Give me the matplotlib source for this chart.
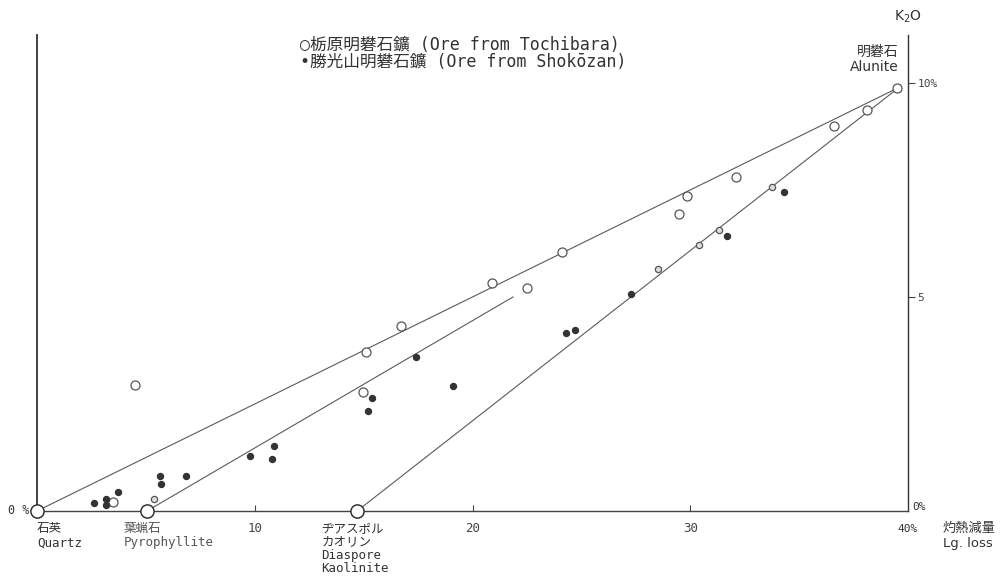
import matplotlib
matplotlib.use("Agg")
import matplotlib.pyplot as plt

plt.rcParams['font.family'] = ['DejaVu Sans Mono', 'Noto Sans CJK JP']
sans = ['DejaVu Sans', 'Noto Sans CJK JP']

# end members (Lg. loss %, K2O %)
quartz = (0.0, 0.0)
pyrophyllite = (5.05, 0.0)
diaspore_kaolinite = (14.7, 0.0)
alunite = (39.6, 9.9)

# Tochibara ore (open circles)
tochi_loss = [3.5, 4.5, 14.97, 15.1, 16.7, 20.9, 22.5, 24.1, 29.5, 29.85,
              32.1, 36.6, 38.1, 39.5]
tochi_k2o = [0.21, 2.94, 2.78, 3.72, 4.33, 5.33, 5.21, 6.05, 6.94, 7.36,
             7.80, 9.0, 9.37, 9.88]

# small open circles along the kaolinite-alunite line
tochi_small_loss = [5.37, 28.5, 30.4, 31.3, 33.75]
tochi_small_k2o = [0.29, 5.65, 6.21, 6.57, 7.57]

# Shokozan ore (filled dots)
shoko_loss = [2.63, 3.17, 3.17, 3.7, 5.66, 5.69, 6.84, 9.8, 10.8, 10.9,
              15.2, 15.4, 17.4, 19.1, 24.3, 24.7, 27.3, 31.7, 34.3]
shoko_k2o = [0.18, 0.28, 0.14, 0.45, 0.81, 0.63, 0.81, 1.29, 1.21, 1.53,
             2.34, 2.65, 3.6, 2.92, 4.16, 4.23, 5.07, 6.43, 7.45]

pyro_line_end = (21.86, 5.0)

fig = plt.figure(figsize=(10.04, 5.79), dpi=100)
ax = fig.add_axes([37 / 1004, 68 / 579, 871 / 1004, 476 / 579])
ax.set_xlim(0, 40)
ax.set_ylim(0, 11.12)

line_c = '#5a5a5a'
ax.plot([quartz[0], alunite[0]], [quartz[1], alunite[1]], color=line_c, lw=0.8)
ax.plot([pyrophyllite[0], pyro_line_end[0]], [pyrophyllite[1], pyro_line_end[1]],
        color=line_c, lw=0.8)
ax.plot([diaspore_kaolinite[0], alunite[0]], [diaspore_kaolinite[1], alunite[1]],
        color=line_c, lw=0.8)

ax.plot(tochi_loss, tochi_k2o, 'o', ms=6.5, mfc='white', mec='#555555', mew=0.9,
        clip_on=False)
ax.plot(tochi_small_loss, tochi_small_k2o, 'o', ms=4.5, mfc='#dddddd',
        mec='#555555', mew=0.9, clip_on=False)
ax.plot(shoko_loss, shoko_k2o, 'o', ms=4.3, mfc='#333333', mec='#333333',
        clip_on=False)

ends = [quartz, pyrophyllite, diaspore_kaolinite]
ax.plot([p[0] for p in ends], [p[1] for p in ends], 'o', ms=9.5, mfc='white',
        mec='#333333', mew=1.1, clip_on=False, zorder=5)

# axes frame: left line, bottom line, right K2O scale
ax.spines['top'].set_visible(False)
ax.spines['left'].set_color('#333333')
ax.spines['bottom'].set_color('#444444')
ax.spines['right'].set_color('#333333')
ax.spines['left'].set_linewidth(1.3)
ax.spines['bottom'].set_linewidth(1.0)
ax.spines['right'].set_linewidth(1.0)

ax.set_xticks([10, 20, 30])
ax.set_xticklabels(['10', '20', '30'])
ax.tick_params(axis='x', direction='in', length=4, width=0.8, colors='#444444',
               labelsize=9, pad=8)
ax.yaxis.tick_right()
ax.set_yticks([5, 10])
ax.set_yticklabels(['5', '10%'])
ax.tick_params(axis='y', direction='out', length=5, width=0.8, colors='#444444',
               labelsize=8, pad=2)

tc = '#333333'
ax.text(-0.35, 0, '0 %', ha='right', va='center', fontsize=8.5, color=tc)
ax.text(0.0, -0.25, '石英\nQuartz', ha='left', va='top', fontsize=9, color=tc,
        linespacing=1.15)
ax.text(4.0, -0.25, '葉蝋石\nPyrophyllite', ha='left', va='top', fontsize=9,
        color='#555555', linespacing=1.15)
ax.text(13.05, -0.25, 'ヂアスポル\nカオリン\nDiaspore\nKaolinite', ha='left',
        va='top', fontsize=9, color=tc, linespacing=1.05)
ax.text(40.0, -0.3, '40%', ha='center', va='top', fontsize=8, color=tc)
ax.text(40.2, 0.1, '0%', ha='left', va='center', fontsize=8, color=tc)
ax.text(41.6, -0.25, '灼熱減量\nLg. loss', ha='left', va='top', fontsize=9.5,
        color=tc, linespacing=1.2, family=sans)
ax.text(40.0, 11.55, 'K$_2$O', ha='center', va='center', fontsize=10, color=tc,
        family=sans)
ax.text(39.55, 10.55, '明礬石\nAlunite', ha='right', va='center', fontsize=10,
        color=tc, linespacing=1.1, family=sans)

ax.text(12.1, 10.88, '○栃原明礬石鑛 (Ore from Tochibara)', ha='left',
        va='center', fontsize=12, color=tc)
ax.text(12.1, 10.48, '•勝光山明礬石鑛 (Ore from Shokōzan)', ha='left',
        va='center', fontsize=12, color=tc)

fig.savefig('out.png', dpi=100, facecolor='white')
